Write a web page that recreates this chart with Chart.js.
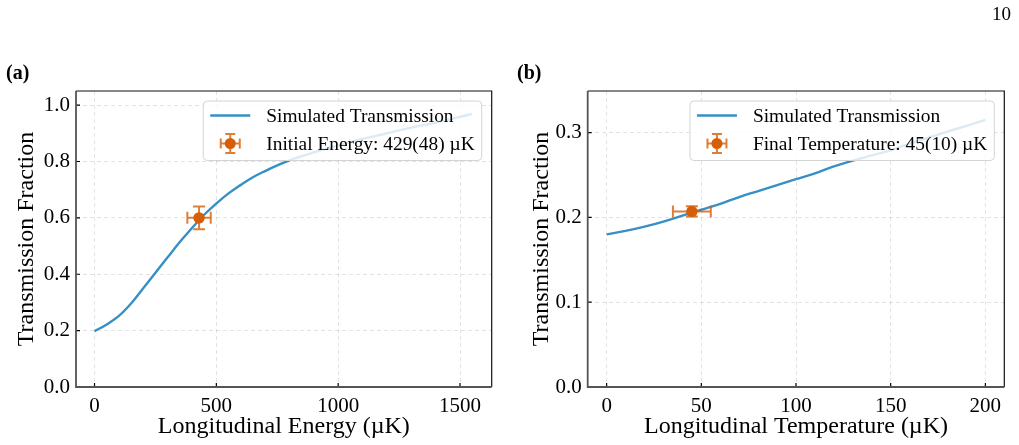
<!DOCTYPE html>
<html><head><meta charset="utf-8">
<script src="https://cdn.jsdelivr.net/npm/chart.js@4.4.0/dist/chart.umd.min.js"></script>
<style>
html,body{margin:0;padding:0;background:#fff;}
#wrap{position:relative;width:1019px;height:445px;overflow:hidden;background:#fff;}
canvas{position:absolute;top:0;}
.lbl{position:absolute;font-family:"Liberation Serif","Times New Roman",serif;color:#000;white-space:nowrap;}
</style></head><body>
<div id="wrap">
<canvas id="ca" width="510" height="445" style="left:0;width:510px;height:445px"></canvas>
<canvas id="cb" width="509" height="445" style="left:510px;width:509px;height:445px"></canvas>
<div class="lbl" style="left:6px;top:62px;font-size:20px;line-height:20px;font-weight:bold">(a)</div>
<div class="lbl" style="left:517px;top:62px;font-size:20px;line-height:20px;font-weight:bold">(b)</div>
<div class="lbl" style="left:992px;top:4px;font-size:19px;line-height:19px">10</div>
</div>
<script>
// ---- data ----
const energyX = [0,50,100,150,200,250,300,350,400,450,500,550,600,650,700,750,800,900,1000,1100,1200,1300,1400,1500,1550];
const energyY = [0.198,0.222,0.252,0.296,0.350,0.405,0.460,0.514,0.564,0.611,0.651,0.687,0.717,0.744,0.766,0.786,0.804,0.832,0.857,0.880,0.900,0.920,0.938,0.958,0.969];
const energyPointX = [429];
const energyPointY = [0.60];
const energyPointXErr = [48];
const energyPointYErr = [0.04];

const tempX = [0,10,20,30,40,50,60,70,80,90,100,110,120,130,140,150,160,170,180,190,200];
const tempY = [0.180,0.184,0.189,0.195,0.202,0.209,0.216,0.224,0.231,0.238,0.245,0.252,0.260,0.267,0.273,0.279,0.287,0.294,0.301,0.308,0.315];
const tempPointX = [45];
const tempPointY = [0.207];
const tempPointXErr = [10];
const tempPointYErr = [0.006];

const energyTicksX = [0,500,1000,1500];
const energyTicksY = [0.0,0.2,0.4,0.6,0.8,1.0];
const tempTicksX = [0,50,100,150,200];
const tempTicksY = [0.0,0.1,0.2,0.3];

const lineLabel = 'Simulated Transmission';
const energyPointLabel = 'Initial Energy: 429(48) \u00b5K';
const tempPointLabel = 'Final Temperature: 45(10) \u00b5K';

// ---- styles ----
const FONT = '"Liberation Serif", "Times New Roman", serif';
const BLUE = '#3690c6';
const ORANGE = 'rgb(214,94,8)';
const ORANGE_BAR = 'rgba(214,94,8,0.8)';

function drawErrorbar(ctx, cx, cy, x0, x1, y0, y1, cap) {
  ctx.save();
  ctx.strokeStyle = ORANGE_BAR;
  ctx.lineWidth = 2;
  ctx.beginPath();
  ctx.moveTo(x0, cy); ctx.lineTo(x1, cy);
  ctx.moveTo(cx, y0); ctx.lineTo(cx, y1);
  ctx.moveTo(x0, cy - cap); ctx.lineTo(x0, cy + cap);
  ctx.moveTo(x1, cy - cap); ctx.lineTo(x1, cy + cap);
  ctx.moveTo(cx - cap, y0); ctx.lineTo(cx + cap, y0);
  ctx.moveTo(cx - cap, y1); ctx.lineTo(cx + cap, y1);
  ctx.stroke();
  ctx.restore();
}

const decor = {
  id: 'decor',
  afterDatasetDraw(chart, args) {
    if (args.index !== 1) return;
    const o = chart.options.plugins.decor;
    const {ctx, scales: {x, y}} = chart;
    for (let i = 0; i < o.px.length; i++) {
      const cx = x.getPixelForValue(o.px[i]);
      const cy = y.getPixelForValue(o.py[i]);
      drawErrorbar(ctx, cx, cy,
        x.getPixelForValue(o.px[i] - o.ex[i]), x.getPixelForValue(o.px[i] + o.ex[i]),
        y.getPixelForValue(o.py[i] + o.ey[i]), y.getPixelForValue(o.py[i] - o.ey[i]), 6);
    }
  },
  afterDraw(chart) {
    const o = chart.options.plugins.decor;
    const {ctx, chartArea: a, scales: {x, y}} = chart;
    ctx.save();
    // inward ticks
    ctx.strokeStyle = '#000';
    ctx.lineWidth = 1.2;
    ctx.beginPath();
    x.ticks.forEach(t => { const px = x.getPixelForValue(t.value); ctx.moveTo(px, a.bottom); ctx.lineTo(px, a.bottom - 4); });
    y.ticks.forEach(t => { const py = y.getPixelForValue(t.value); ctx.moveTo(a.left, py); ctx.lineTo(a.left + 4, py); });
    ctx.stroke();
    // spines
    ctx.strokeStyle = '#111';
    ctx.lineWidth = 1.2;
    ctx.beginPath();
    ctx.moveTo(a.left, a.top); ctx.lineTo(a.right, a.top); ctx.lineTo(a.right, a.bottom);
    ctx.stroke();
    ctx.strokeStyle = '#555';
    ctx.lineWidth = 1.8;
    ctx.beginPath();
    ctx.moveTo(a.left, a.top); ctx.lineTo(a.left, a.bottom); ctx.lineTo(a.right, a.bottom);
    ctx.stroke();

    // legend
    const fs = 19.4;
    ctx.font = fs + 'px ' + FONT;
    const labels = [chart.data.datasets[1].label, chart.data.datasets[0].label];
    const tw = Math.max(...labels.map(s => ctx.measureText(s).width));
    const pad = 7, hl = 40, gap = 16;
    const w = pad + hl + gap + tw + pad;
    const h = 59.5;
    const bx = a.right - 10 - w, by = a.top + 10;
    ctx.beginPath();
    ctx.roundRect(bx, by, w, h, 4);
    ctx.fillStyle = 'rgba(255,255,255,0.82)';
    ctx.fill();
    ctx.strokeStyle = '#d4d4d4';
    ctx.lineWidth = 1;
    ctx.stroke();
    const r1 = by + 14.5, r2 = by + 42.5;
    // line handle
    ctx.strokeStyle = BLUE;
    ctx.lineWidth = 2.4;
    ctx.beginPath(); ctx.moveTo(bx + pad, r1); ctx.lineTo(bx + pad + hl, r1); ctx.stroke();
    // errorbar handle
    const mx = bx + pad + hl / 2;
    drawErrorbar(ctx, mx, r2, mx - 9.5, mx + 9.5, r2 - 9.5, r2 + 9.5, 5);
    ctx.fillStyle = ORANGE;
    ctx.beginPath(); ctx.arc(mx, r2, 5.5, 0, Math.PI * 2); ctx.fill();
    // texts
    ctx.fillStyle = '#000';
    ctx.textBaseline = 'middle';
    ctx.textAlign = 'left';
    ctx.fillText(labels[0], bx + pad + hl + gap, r1 + 1);
    ctx.fillText(labels[1], bx + pad + hl + gap, r2 + 1);
    ctx.restore();
  }
};

function makeChart(id, c) {
  const tickFont = {family: FONT, size: 21};
  const titleFont = {family: FONT, size: 24};
  return new Chart(document.getElementById(id), {
    type: 'scatter',
    data: {
      datasets: [
        {label: c.pointLabel, data: c.px.map((v, i) => ({x: v, y: c.py[i]})),
         pointRadius: 5.7, pointHoverRadius: 5.7, pointBackgroundColor: ORANGE, pointBorderWidth: 0, showLine: false},
        {label: lineLabel, data: c.lx.map((v, i) => ({x: v, y: c.ly[i]})),
         showLine: true, pointRadius: 0, borderColor: BLUE, borderWidth: 2.4,
         tension: 0.4, fill: false}
      ]
    },
    options: {
      responsive: false, animation: false, devicePixelRatio: 1,
      events: [],
      layout: {padding: {left: 0, top: 91, right: c.right, bottom: 0}},
      plugins: {legend: {display: false}, tooltip: {enabled: false},
        decor: {px: c.px, py: c.py, ex: c.ex, ey: c.ey}},
      scales: {
        x: {type: 'linear', min: c.xmin, max: c.xmax,
          afterBuildTicks: s => { s.ticks = c.xticks.map(v => ({value: v})); },
          ticks: {font: tickFont, color: '#000', padding: 7, maxRotation: 0,
            callback: v => String(v)},
          grid: {color: 'rgba(0,0,0,0.11)', lineWidth: 1, drawTicks: false},
          border: {display: false, dash: [4, 3]},
          title: {display: true, text: c.xtitle, font: titleFont, color: '#000', padding: {top: 0, bottom: 4}},
          afterFit: s => { s.height = 58; }
        },
        y: {type: 'linear', min: 0, max: c.ymax,
          afterBuildTicks: s => { s.ticks = c.yticks.map(v => ({value: v})); },
          ticks: {font: tickFont, color: '#000', padding: 6,
            callback: v => Number(v).toFixed(1)},
          grid: {color: 'rgba(0,0,0,0.11)', lineWidth: 1, drawTicks: false},
          border: {display: false, dash: [4, 3]},
          title: {display: true, text: 'Transmission Fraction', font: titleFont, color: '#000', padding: {top: c.ytitlePad, bottom: 0}},
          afterFit: s => { s.width = c.yw; }
        }
      }
    },
    plugins: [decor]
  });
}

makeChart('ca', {
  lx: energyX, ly: energyY, px: energyPointX, py: energyPointY, ex: energyPointXErr, ey: energyPointYErr,
  pointLabel: energyPointLabel, xticks: energyTicksX, yticks: energyTicksY,
  xmin: -76, xmax: 1630, ymax: 1.05, right: 18.3, yw: 76, ytitlePad: 12.5,
  xtitle: 'Longitudinal Energy (\u00b5K)'
});
makeChart('cb', {
  lx: tempX, ly: tempY, px: tempPointX, py: tempPointY, ex: tempPointXErr, ey: tempPointYErr,
  pointLabel: tempPointLabel, xticks: tempTicksX, yticks: tempTicksY,
  xmin: -10, xmax: 210, ymax: 0.349, right: 14.7, yw: 77.7, ytitlePad: 17.5,
  xtitle: 'Longitudinal Temperature (\u00b5K)'
});
</script>
</body></html>
